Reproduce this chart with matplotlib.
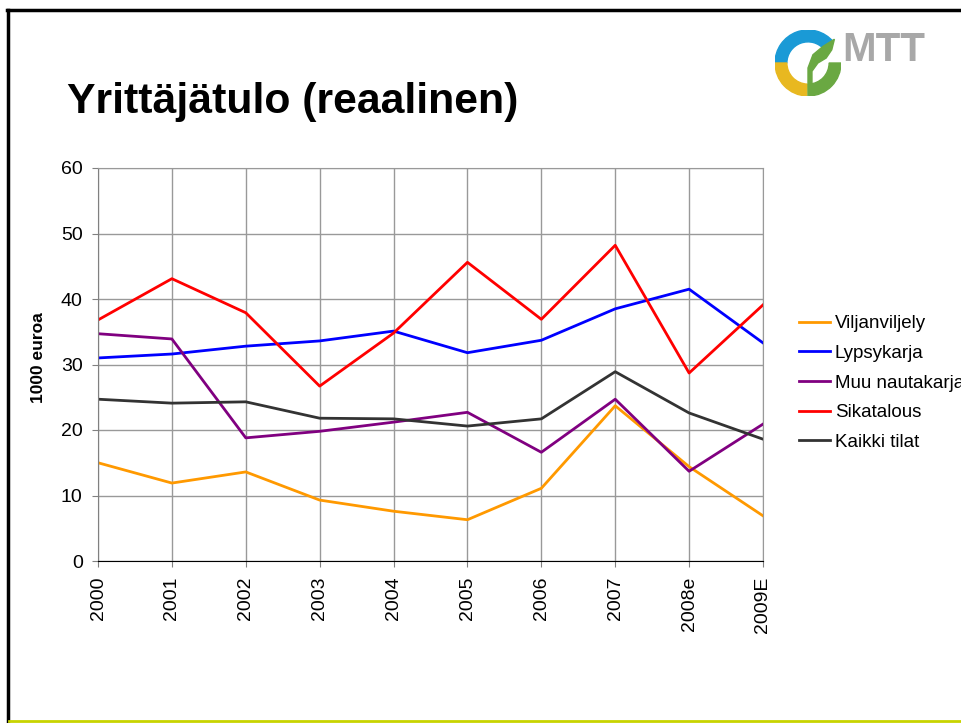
import matplotlib
matplotlib.use('Agg')
import matplotlib.pyplot as plt
from matplotlib.patches import Wedge, Polygon
from matplotlib.lines import Line2D

plt.rcParams['font.family'] = ['Liberation Sans', 'DejaVu Sans']

years = ['2000', '2001', '2002', '2003', '2004', '2005', '2006', '2007', '2008e', '2009E']
viljanviljely = [15.0, 11.9, 13.6, 9.3, 7.6, 6.3, 11.1, 23.7, 14.4, 6.9]
lypsykarja = [31.0, 31.6, 32.8, 33.6, 35.1, 31.8, 33.7, 38.5, 41.5, 33.3]
muu_nautakarja = [34.7, 33.9, 18.8, 19.8, 21.2, 22.7, 16.6, 24.7, 13.7, 20.9]
sikatalous = [36.8, 43.1, 37.9, 26.7, 34.8, 45.6, 36.9, 48.2, 28.7, 39.1]
kaikki_tilat = [24.7, 24.1, 24.3, 21.8, 21.7, 20.6, 21.7, 28.9, 22.6, 18.6]

series = [
    ('Viljanviljely', viljanviljely, '#FF9900'),
    ('Lypsykarja', lypsykarja, '#0000FF'),
    ('Muu nautakarja', muu_nautakarja, '#800080'),
    ('Sikatalous', sikatalous, '#FF0000'),
    ('Kaikki tilat', kaikki_tilat, '#333333'),
]

W, H = 962, 723
fig = plt.figure(figsize=(W / 100, H / 100), dpi=100)

# slide border
fig.add_artist(Line2D([8 / W, 8 / W], [0, 1 - 10 / H], color='black', lw=2.5, transform=fig.transFigure))
fig.add_artist(Line2D([7 / W, 1], [1 - 10 / H, 1 - 10 / H], color='black', lw=2.5, transform=fig.transFigure))
fig.add_artist(Line2D([9 / W, 1], [1 - 721 / H, 1 - 721 / H], color='#C8D400', lw=2, transform=fig.transFigure))

# title
fig.text(67 / W, 1 - 102 / H, 'Yrittäjätulo (reaalinen)', fontsize=30.8, fontweight='bold',
         ha='left', va='center')

# logo
lax = fig.add_axes([775 / W, 1 - 96 / H, 66 / W, 66 / H])
lax.set_xlim(-1, 1)
lax.set_ylim(-1, 1)
lax.set_aspect('equal')
lax.axis('off')
lax.add_patch(Wedge((0, 0), 1.0, 40, 180, width=0.36, color='#1A9AD6'))
lax.add_patch(Wedge((0, 0), 1.0, 180, 268, width=0.36, color='#E8B820'))
lax.add_patch(Wedge((0, 0), 1.0, 272, 360, width=0.36, color='#6AA842'))
lax.add_patch(Polygon([(0.0, -1.0), (0.0, -0.15), (0.15, 0.25), (0.45, 0.5), (0.8, 0.72),
                       (0.72, 0.4), (0.55, 0.15), (0.3, 0.0), (0.12, -0.25), (0.12, -0.6)],
                      closed=True, color='#6AA842'))
fig.text(842 / W, 1 - 50 / H, 'MTT', fontsize=29, fontweight='bold', color='#A8A8A8',
         ha='left', va='center')

# chart
ax = fig.add_axes([98 / W, 1 - 561 / H, (763 - 98) / W, (561 - 168) / H])
x = list(range(len(years)))
for name, vals, col in series:
    ax.plot(x, vals, color=col, lw=2, label=name)

ax.set_xlim(0, len(years) - 1)
ax.set_ylim(0, 60)
ax.set_yticks(range(0, 61, 10))
ax.set_xticks(x)
ax.set_xticklabels(years, rotation=90, fontsize=14)
ax.tick_params(axis='y', labelsize=14, length=4, pad=7, direction='out', color='#808080')
ax.tick_params(axis='x', length=4, pad=7, direction='out', color='#808080')
ax.grid(True, color='#999999', lw=1)
ax.set_axisbelow(True)
for s in ['top', 'right']:
    ax.spines[s].set_color('#999999')
ax.spines['left'].set_color('#808080')
ax.spines['bottom'].set_color('black')
ax.set_ylabel('1000 euroa', fontsize=12.5, fontweight='bold')
ax.yaxis.set_label_coords(46 / W, 1 - 358 / H, transform=fig.transFigure)

leg = ax.legend(loc='upper left', bbox_to_anchor=(799 / W, 1 - 315 / H),
                bbox_transform=fig.transFigure, frameon=False, fontsize=13.5,
                borderpad=0, borderaxespad=0,
                handlelength=1.65, handletextpad=0.27, labelspacing=0.67)

fig.savefig('out.png', dpi=100)
